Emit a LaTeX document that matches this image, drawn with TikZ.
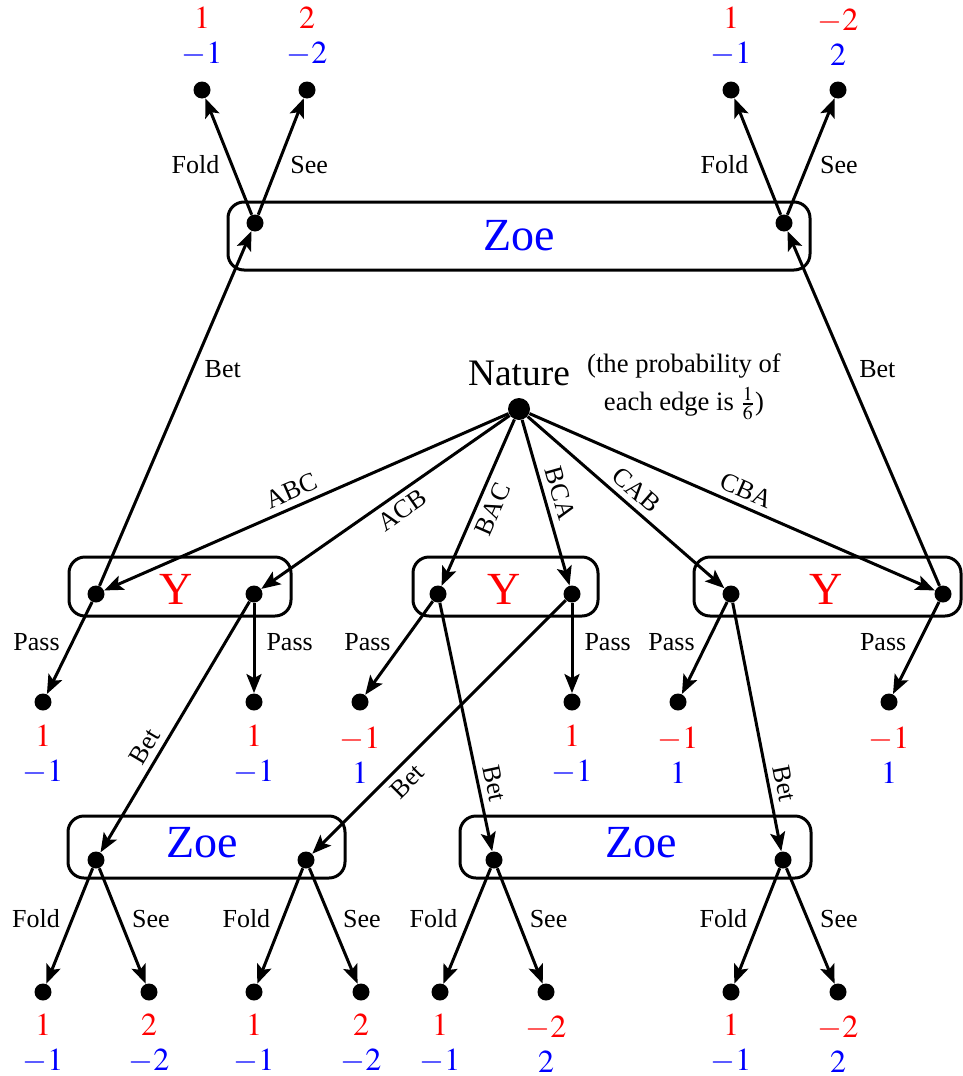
\documentclass[tikz,border=0pt]{standalone}
\usepackage{mathptmx}
\usepackage[no-math]{fontspec}
\setmainfont{Liberation Serif}
\usetikzlibrary{arrows.meta, positioning, calc}
\tikzset{
	dot/.style     ={circle, fill=black, inner sep=0pt, minimum size=8.5pt},
	bigdot/.style  ={circle, fill=black, inner sep=0pt, minimum size=11pt},
	infoset/.style ={draw=black, line width=1.5pt, rounded corners=8pt},
	move/.style    ={-{Stealth[length=9.5pt, width=7.5pt, inset=2pt]}, line width=1.5pt},
	act/.style     ={font=\fontsize{13}{15}\selectfont, inner sep=5.5pt},
	slant/.style   ={font=\fontsize{13}{15}\selectfont, inner sep=3pt, sloped},
	payoff/.style  ={align=center, font=\fontsize{16}{17.5}\selectfont, inner sep=0pt},
	ylabel/.style  ={text=red, font=\fontsize{23}{26}\selectfont, inner sep=0pt},
	zlabel/.style  ={text=blue, font=\fontsize{23}{26}\selectfont, inner sep=0pt},
}
\newcommand{\pay}[2]{\textcolor{red}{$#1$}\\\textcolor{blue}{$#2$}}

\begin{document}
\begin{tikzpicture}[x=0.5pt, y=-0.5pt]
	\useasboundingbox (0,0) rectangle (963,1076);
	% nature
	\node[bigdot] (nat) at (519,409) {};
	\node[font=\fontsize{18.7}{20}\selectfont, inner sep=0pt] (natname) at (519,373) {Nature};
	\node[align=center, font=\fontsize{13.3}{19}\selectfont, inner sep=0pt] (natnote) at (684,387) {(the probability of\\each edge is $\frac{1}{6}$)};
	% information sets
	\draw[infoset] (69,557) rectangle (291,616);
	\draw[infoset] (413,557) rectangle (598,616);
	\draw[infoset] (694,557) rectangle (961,616);
	\draw[infoset] (228,202) rectangle (810,270);
	\draw[infoset] (68,816) rectangle (345,878);
	\draw[infoset] (460,816) rectangle (811,878);
	\node[ylabel] (ylab1) at (176,589) {Y};
	\node[ylabel] (ylab2) at (504,589) {Y};
	\node[ylabel] (ylab3) at (826,589) {Y};
	\node[zlabel] (zlabt) at (519,236) {Zoe};
	\node[zlabel] (zlab1) at (202,843) {Zoe};
	\node[zlabel] (zlab2) at (641,843) {Zoe};
	% decision nodes
	\node[dot] (y1a) at (96,594) {};
	\node[dot] (y1b) at (254,594) {};
	\node[dot] (y2a) at (438,594) {};
	\node[dot] (y2b) at (572,594) {};
	\node[dot] (y3a) at (731,594) {};
	\node[dot] (y3b) at (943,594) {};
	\node[dot] (zta) at (255,223) {};
	\node[dot] (ztb) at (784,223) {};
	\node[dot] (zb1a) at (96,860) {};
	\node[dot] (zb1b) at (306,860) {};
	\node[dot] (zb2a) at (494,860) {};
	\node[dot] (zb2b) at (783,860) {};
	% leaves
	\node[dot] (t1) at (202,90) {};
	\node[dot] (t2) at (307,90) {};
	\node[dot] (t3) at (731,90) {};
	\node[dot] (t4) at (838,90) {};
	\node[dot] (p1) at (43,702) {};
	\node[dot] (p2) at (254,702) {};
	\node[dot] (p3) at (360,702) {};
	\node[dot] (p4) at (572,702) {};
	\node[dot] (p5) at (678,702) {};
	\node[dot] (p6) at (889,702) {};
	\node[dot] (b1) at (43,992) {};
	\node[dot] (b2) at (149,992) {};
	\node[dot] (b3) at (254,992) {};
	\node[dot] (b4) at (361,992) {};
	\node[dot] (b5) at (440,992) {};
	\node[dot] (b6) at (546,992) {};
	\node[dot] (b7) at (731,992) {};
	\node[dot] (b8) at (838,992) {};
	% payoffs
	\node[payoff] (vt1) at ($(t1)+(0,-53)$) {\pay{1}{-1}};
	\node[payoff] (vt2) at ($(t2)+(0,-53)$) {\pay{2}{-2}};
	\node[payoff] (vt3) at ($(t3)+(0,-53)$) {\pay{1}{-1}};
	\node[payoff] (vt4) at ($(t4)+(0,-53)$) {\pay{-2}{2}};
	\node[payoff] (vp1) at ($(p1)+(0,53)$) {\pay{1}{-1}};
	\node[payoff] (vp2) at ($(p2)+(0,53)$) {\pay{1}{-1}};
	\node[payoff] (vp3) at ($(p3)+(0,53)$) {\pay{-1}{1}};
	\node[payoff] (vp4) at ($(p4)+(0,53)$) {\pay{1}{-1}};
	\node[payoff] (vp5) at ($(p5)+(0,53)$) {\pay{-1}{1}};
	\node[payoff] (vp6) at ($(p6)+(0,53)$) {\pay{-1}{1}};
	\node[payoff] (vb1) at ($(b1)+(0,52)$) {\pay{1}{-1}};
	\node[payoff] (vb2) at ($(b2)+(0,52)$) {\pay{2}{-2}};
	\node[payoff] (vb3) at ($(b3)+(0,52)$) {\pay{1}{-1}};
	\node[payoff] (vb4) at ($(b4)+(0,52)$) {\pay{2}{-2}};
	\node[payoff] (vb5) at ($(b5)+(0,52)$) {\pay{1}{-1}};
	\node[payoff] (vb6) at ($(b6)+(0,52)$) {\pay{-2}{2}};
	\node[payoff] (vb7) at ($(b7)+(0,52)$) {\pay{1}{-1}};
	\node[payoff] (vb8) at ($(b8)+(0,52)$) {\pay{-2}{2}};
	% nature's moves
	\draw[move] (nat) -- node[slant, above, pos=0.52] (eabc) {ABC} (y1a);
	\draw[move] (nat) -- node[slant, below, pos=0.47] (eacb) {ACB} (y1b);
	\draw[move] (nat) -- node[slant, below, pos=0.5] (ebac) {BAC} (y2a);
	\draw[move] (nat) -- node[slant, above, pos=0.47] (ebca) {BCA} (y2b);
	\draw[move] (nat) -- node[slant, above, pos=0.5] (ecab) {CAB} (y3a);
	\draw[move] (nat) -- node[slant, above, pos=0.52] (ecba) {CBA} (y3b);
	% Y passes
	\draw[move] (y1a) -- node[act, left, pos=0.44] (ps1) {Pass} (p1);
	\draw[move] (y1b) -- node[act, right, pos=0.44] (ps2) {Pass} (p2);
	\draw[move] (y2a) -- node[act, left, pos=0.44] (ps3) {Pass} (p3);
	\draw[move] (y2b) -- node[act, right, pos=0.44] (ps4) {Pass} (p4);
	\draw[move] (y3a) -- node[act, left, pos=0.44] (ps5) {Pass} (p5);
	\draw[move] (y3b) -- node[act, left, pos=0.44] (ps6) {Pass} (p6);
	% Y bets
	\draw[move] (y1a) -- node[act, right, pos=0.61] (bt1) {Bet} (zta);
	\draw[move] (y3b) -- node[act, right, pos=0.61] (bt2) {Bet} (ztb);
	\draw[move] (y1b) -- node[slant, above, pos=0.61] (bt3) {Bet} (zb1a);
	\draw[move] (y2b) -- node[slant, below, pos=0.67] (bt4) {Bet} (zb1b);
	\draw[move] (y2a) -- node[slant, above, pos=0.74] (bt5) {Bet} (zb2a);
	\draw[move] (y3a) -- node[slant, above, pos=0.74] (bt6) {Bet} (zb2b);
	% Zoe's moves
	\draw[move] (zta) -- node[act, left, pos=0.43] (f1) {Fold} (t1);
	\draw[move] (zta) -- node[act, right, pos=0.43] (s1) {See} (t2);
	\draw[move] (ztb) -- node[act, left, pos=0.43] (f2) {Fold} (t3);
	\draw[move] (ztb) -- node[act, right, pos=0.43] (s2) {See} (t4);
	\draw[move] (zb1a) -- node[act, left, pos=0.44] (f3) {Fold} (b1);
	\draw[move] (zb1a) -- node[act, right, pos=0.44] (s3) {See} (b2);
	\draw[move] (zb1b) -- node[act, left, pos=0.44] (f4) {Fold} (b3);
	\draw[move] (zb1b) -- node[act, right, pos=0.44] (s4) {See} (b4);
	\draw[move] (zb2a) -- node[act, left, pos=0.44] (f5) {Fold} (b5);
	\draw[move] (zb2a) -- node[act, right, pos=0.44] (s5) {See} (b6);
	\draw[move] (zb2b) -- node[act, left, pos=0.44] (f6) {Fold} (b7);
	\draw[move] (zb2b) -- node[act, right, pos=0.44] (s6) {See} (b8);
\end{tikzpicture}
\end{document}
